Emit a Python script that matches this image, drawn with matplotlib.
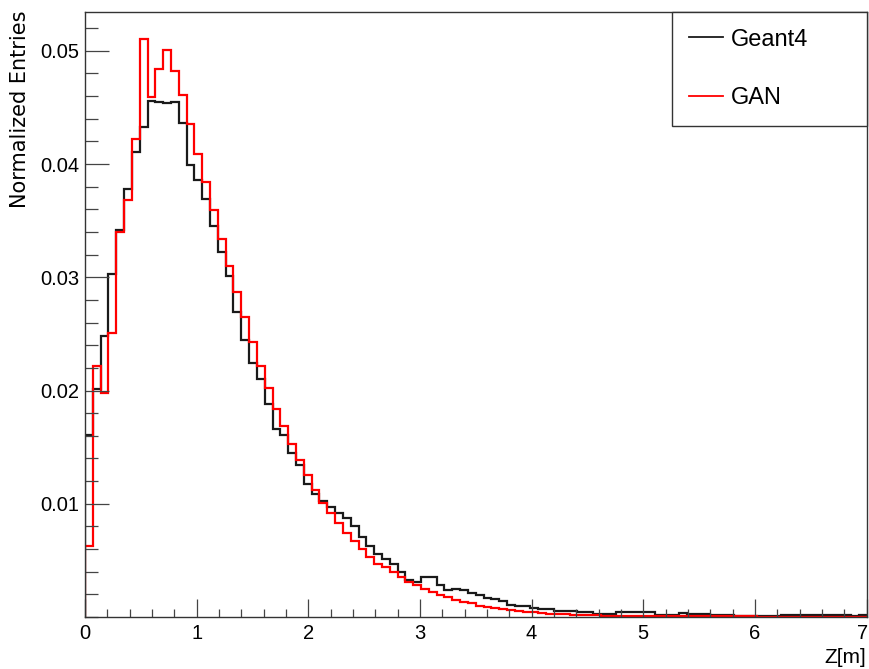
import numpy as np
import matplotlib
matplotlib.use("Agg")
import matplotlib.pyplot as plt
import matplotlib.transforms as mtransforms
from matplotlib import font_manager
from matplotlib.ticker import MultipleLocator, FixedLocator

# ---------------- data ----------------
bin_edges = np.linspace(0.0, 7.0, 101)

geant4 = [
    0.0161, 0.0201, 0.0248, 0.0303, 0.0342, 0.0378, 0.0411, 0.0433, 0.0456, 0.0455,
    0.0454, 0.0455, 0.0436, 0.0399, 0.0386, 0.0369, 0.0345, 0.0322, 0.0301, 0.0269,
    0.0245, 0.0224, 0.0210, 0.0188, 0.0166, 0.0161, 0.0145, 0.0134, 0.0117, 0.0109,
    0.0102, 0.0097, 0.0092, 0.0087, 0.0080, 0.0071, 0.0063, 0.0056, 0.0051, 0.0047,
    0.0040, 0.0033, 0.0031, 0.0035, 0.0035, 0.0028, 0.0024, 0.0025, 0.0024, 0.0021,
    0.0019, 0.0017, 0.0016, 0.0014, 0.0011, 0.0010, 0.0010, 0.0008, 0.0007, 0.0007,
    0.0005, 0.0005, 0.0005, 0.0004, 0.0004, 0.0003, 0.0003, 0.0003, 0.0004, 0.0004,
    0.0004, 0.0004, 0.0004, 0.0002, 0.0002, 0.0002, 0.00035, 0.00025, 0.00025, 0.00025,
    0.00015, 0.00015, 0.00015, 0.0001, 0.0001, 0.0001, 0.0001, 0.0001, 0.0001, 0.0002,
    0.0002, 0.0002, 0.0002, 0.0002, 0.0002, 0.0002, 0.0002, 0.0002, 0.0001, 0.0002,
]

gan = [
    0.0063, 0.0222, 0.0198, 0.0251, 0.0340, 0.0368, 0.0422, 0.0510, 0.0459, 0.0484,
    0.0501, 0.0482, 0.0461, 0.0435, 0.0409, 0.0384, 0.0359, 0.0334, 0.0310, 0.0287,
    0.0265, 0.0243, 0.0222, 0.0202, 0.0184, 0.0169, 0.0153, 0.0139, 0.0125, 0.0112,
    0.0101, 0.0092, 0.0083, 0.0074, 0.0067, 0.0060, 0.0053, 0.0047, 0.0044, 0.0040,
    0.0035, 0.0031, 0.0028, 0.0025, 0.0022, 0.0019, 0.0018, 0.0015, 0.0013, 0.0012,
    0.0010, 0.0009, 0.0008, 0.0007, 0.0006, 0.0005, 0.00045, 0.0004, 0.00035, 0.0003,
    0.00027, 0.00024, 0.0002, 0.00018, 0.00016, 0.00015, 0.00013, 0.00013, 0.00013, 0.00013,
    0.00013, 0.0001, 0.0001, 0.0001, 0.0001, 0.0001, 0.00007, 0.00007, 0.00007, 0.00007,
    0.00007, 0.00007, 0.00007, 0.00007, 0.00007, 0.00007, 0.00004, 0.00004, 0.00004, 0.00004,
    0.00004, 0.00004, 0.00004, 0.00004, 0.00004, 0.00004, 0.00004, 0.00004, 0.00004, 0.00004,
]

series_labels = ["Geant4", "GAN"]
y_tick_values = [0.01, 0.02, 0.03, 0.04, 0.05]
y_tick_labels = ["0.01", "0.02", "0.03", "0.04", "0.05"]
x_tick_values = [0, 1, 2, 3, 4, 5, 6, 7]
x_tick_labels = ["0", "1", "2", "3", "4", "5", "6", "7"]
x_title = "Z[m]"
y_title = "Normalized Entries"

# ---------------- fonts ----------------
available = {f.name for f in font_manager.fontManager.ttflist}
narrow = "Liberation Sans Narrow" if "Liberation Sans Narrow" in available else "Liberation Sans"

# ---------------- figure ----------------
W, H = 869, 669
fig = plt.figure(figsize=(W / 100, H / 100), dpi=100)
left_px, right_px, top_px, bottom_px = 85, 866.5, 11.7, 617
ax = fig.add_axes([left_px / W, 1 - bottom_px / H,
                   (right_px - left_px) / W, (bottom_px - top_px) / H])

h1 = ax.stairs(geant4, bin_edges, color="#1a1a1a", lw=1.6, label=series_labels[0])
h2 = ax.stairs(gan, bin_edges, color="#ff0000", lw=1.6, label=series_labels[1])

ax.set_xlim(0, 7)
ax.set_ylim(0, (bottom_px - top_px) / 11325)

for s in ax.spines.values():
    s.set_color("#333333")
    s.set_linewidth(1.0)

ax.xaxis.set_major_locator(FixedLocator(x_tick_values))
ax.set_xticklabels(x_tick_labels)
ax.xaxis.set_minor_locator(MultipleLocator(0.2))
ax.yaxis.set_major_locator(FixedLocator(y_tick_values))
ax.set_yticklabels(y_tick_labels)
ax.yaxis.set_minor_locator(MultipleLocator(0.002))

ax.tick_params(axis="x", which="major", direction="in", length=13, width=0.9,
               color="#444444", pad=5, labelsize=14.5, top=False)
ax.tick_params(axis="x", which="minor", direction="in", length=6, width=0.9,
               color="#444444", top=False)
ax.tick_params(axis="y", which="major", direction="in", length=17.5, width=0.9,
               color="#444444", pad=4, labelsize=14.5, right=False)
ax.tick_params(axis="y", which="minor", direction="in", length=9, width=0.9,
               color="#444444", right=False)
for lab in ax.get_xticklabels() + ax.get_yticklabels():
    lab.set_fontfamily(narrow)
# keep the last x label ("7") inside the canvas
last = ax.get_xticklabels()[-1]
last.set_transform(last.get_transform() +
                   mtransforms.ScaledTranslation(-4 / 100, 0, fig.dpi_scale_trans))

# axis titles (ROOT style: at the ends of the axes)
fig.text(right_px / W, 1 - 667 / H, x_title, ha="right", va="bottom",
         fontsize=15, family=narrow)
fig.text(10 / W, 1 - 10 / H, y_title, ha="left", va="top", rotation=90,
         fontsize=15, family="DejaVu Sans")

# legend box at upper right
leg = ax.legend(handles=[h1, h2], labels=series_labels,
                loc="upper left", bbox_to_anchor=(0.7506, 1.0, 0.2494, 0.0),
                mode="expand", borderaxespad=0, frameon=True, fancybox=False,
                edgecolor="#333333", framealpha=1, prop={"family": narrow, "size": 17},
                handlelength=1.45, handletextpad=0.35, labelspacing=1.55,
                borderpad=0.72)
leg.get_frame().set_linewidth(1.0)
for p in leg.legend_handles:
    try:
        p.set_linewidth(1.3)
    except Exception:
        pass

fig.savefig("out.png", dpi=100)
